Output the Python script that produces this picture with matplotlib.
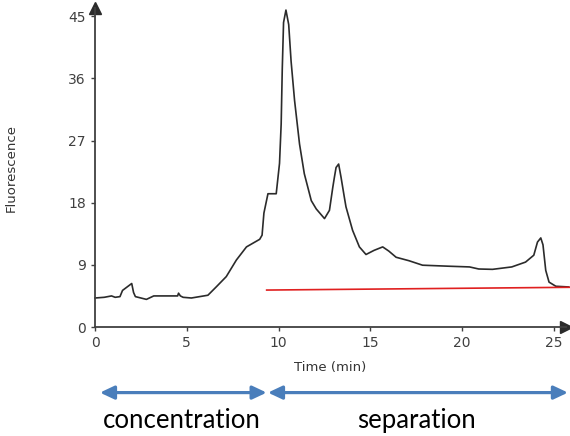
import matplotlib.pyplot as plt
import numpy as np

# chromatogram trace
time_min = [0, 0.5, 0.9, 1.1, 1.36, 1.5, 1.75, 2.0, 2.1, 2.2, 2.8, 3.2, 4.5, 4.55, 4.65, 4.8,
            5.25, 6.15, 6.6, 7.15, 7.7, 8.25, 8.97, 9.1, 9.2, 9.42, 9.87, 10.05, 10.14, 10.2,
            10.27, 10.4, 10.55, 10.68, 10.87, 11.14, 11.4, 11.78, 12.05, 12.5, 12.77, 12.95,
            13.04, 13.13, 13.27, 13.4, 13.58, 13.67, 14.03, 14.4, 14.76, 15.2, 15.67, 16.0,
            16.4, 17.1, 17.84, 19.3, 20.4, 20.9, 21.65, 22.7, 23.45, 23.9, 24.1, 24.28, 24.4,
            24.55, 24.73, 25.1, 25.8]
fluor = [4.2, 4.3, 4.5, 4.3, 4.4, 5.3, 5.8, 6.3, 5.0, 4.4, 4.0, 4.5, 4.5, 4.9, 4.5, 4.3,
         4.2, 4.6, 5.8, 7.3, 9.7, 11.6, 12.7, 13.3, 16.5, 19.3, 19.3, 23.7, 29.4, 37.4,
         44.1, 45.9, 43.8, 38.5, 32.8, 26.5, 22.2, 18.3, 17.1, 15.7, 16.9, 20.2,
         21.7, 23.1, 23.6, 21.7, 18.8, 17.4, 14.0, 11.6, 10.5, 11.1, 11.6, 11.0,
         10.1, 9.6, 8.95, 8.8, 8.7, 8.4, 8.35, 8.7, 9.4, 10.4, 12.3, 12.9, 11.9,
         8.2, 6.5, 5.9, 5.8]

# baseline (red)
base_t = [9.35, 25.85]
base_f = [5.35, 5.75]

yticks = [0, 9, 18, 27, 36, 45]
xticks = [0, 5, 10, 15, 20, 25]

# phases under the axis
phases = ['concentration', 'separation']
phase_start = [0.27, 9.42]
phase_end = [9.35, 25.76]

fig = plt.figure(figsize=(5.7, 4.36), dpi=100)
ax = fig.add_axes([95/570, 109/436, 471/570, 319/436])

ax.plot(time_min, fluor, color='#2b2b2b', lw=1.2, clip_on=False)
ax.plot(base_t, base_f, color='#e02020', lw=1.2, clip_on=False)

ax.set_xlim(0, 471/18.36)
ax.set_ylim(0, 46.2)
ax.set_xticks(xticks)
ax.set_yticks(yticks)
ax.spines['top'].set_visible(False)
ax.spines['right'].set_visible(False)
for s in ['left', 'bottom']:
    ax.spines[s].set_color('#404040')
    ax.spines[s].set_linewidth(1.3)
ax.tick_params(direction='out', length=3, width=1, colors='#404040', labelsize=10)

# axis arrow heads
ax.plot(1, 0, '>', color='#2b2b2b', ms=8, transform=ax.transAxes, clip_on=False)
ax.plot(0, 1, '^', color='#2b2b2b', ms=8, transform=ax.transAxes, clip_on=False)

ax.set_xlabel('Time (min)', fontsize=9.5, color='#333333', labelpad=8)
ax.set_ylabel('Fluorescence', fontsize=9.5, color='#333333')
ax.yaxis.set_label_coords(-0.165, 0.5)

for name, a, b in zip(phases, phase_start, phase_end):
    ax.annotate('', xy=(a, -9.5), xytext=(b, -9.5), xycoords='data',
                annotation_clip=False,
                arrowprops=dict(arrowstyle='<|-|>,head_length=0.85,head_width=0.4',
                                color='#4a7ebb', lw=2.3, shrinkA=0, shrinkB=0))
    ax.text((a + b) / 2 - 0.1, -13.6, name, fontsize=18.5, family='Lato',
            ha='center', va='center', color='black', clip_on=False)

plt.savefig('out.png', dpi=100)
